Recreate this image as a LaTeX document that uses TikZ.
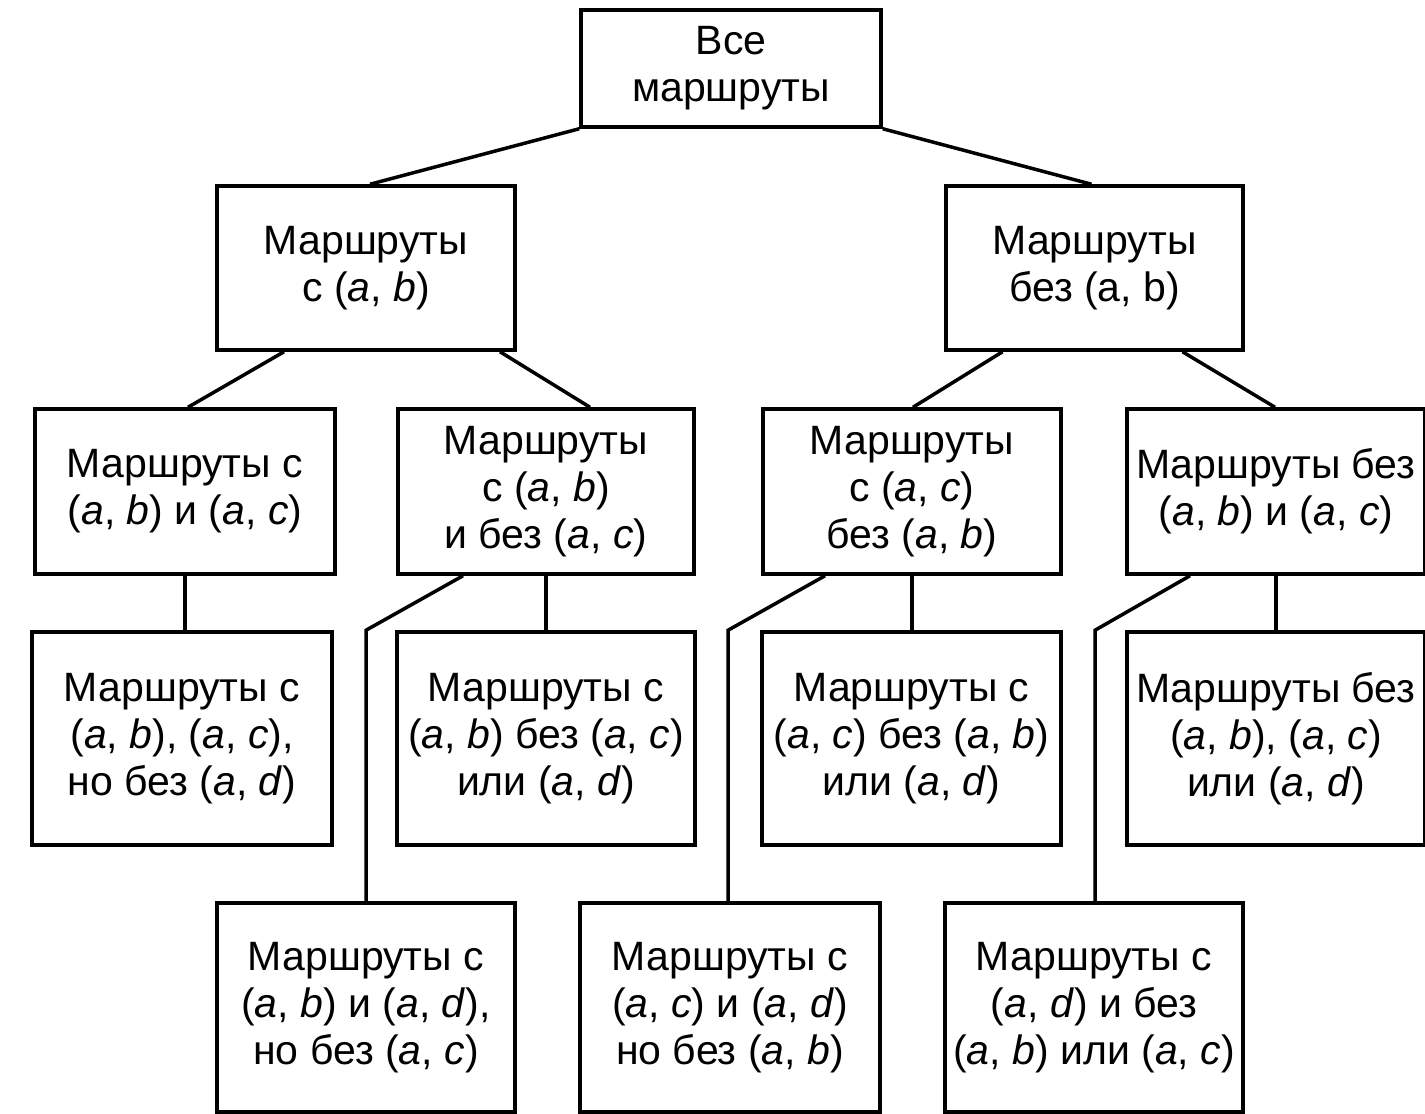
\documentclass[tikz,border=0pt]{standalone}
\usepackage{fontspec}
\setmainfont{Liberation Sans}
\usetikzlibrary{calc}
\newcommand{\I}[1]{\textit{#1}}
\begin{document}
\begin{tikzpicture}[x=1pt,y=-1pt,
  box/.style={draw=black,line width=3.5pt,fill=white,align=center,inner sep=0pt,
    font=\fontsize{41}{47}\selectfont},
  lnk/.style={draw=black,line width=3.5pt,line join=miter}]
\useasboundingbox[fill=white] (0,0) rectangle (1425,1114);
% level 1
\node[box,minimum width=300,minimum height=117] (top) at (731,68.5) {Все\\маршруты};
% level 2
\node[box,minimum width=298,minimum height=164] (l2a) at (366,268) {Маршруты\\с (\I{a}, \I{b})};
\node[box,minimum width=297,minimum height=164] (l2b) at (1094.5,268) {Маршруты\\без (a, b)};
% level 3
\node[box,minimum width=300,minimum height=165] (l3a) at (185,491.5) {Маршруты с\\(\I{a}, \I{b}) и (\I{a}, \I{c})};
\node[box,minimum width=296,minimum height=165] (l3b) at (546,491.5) {Маршруты\\с (\I{a}, \I{b})\\и без (\I{a}, \I{c})};
\node[box,minimum width=298,minimum height=165] (l3c) at (912,491.5) {Маршруты\\с (\I{a}, \I{c})\\без (\I{a}, \I{b})};
\node[box,minimum width=298,minimum height=165] (l3d) at (1276,491.5) {Маршруты без\\(\I{a}, \I{b}) и (\I{a}, \I{c})};
% level 4
\node[box,minimum width=300,minimum height=213] (l4a) at (182,738.5) {Маршруты с\\(\I{a}, \I{b}), (\I{a}, \I{c}),\\но без (\I{a}, \I{d})};
\node[box,minimum width=298,minimum height=213] (l4b) at (546,738.5) {Маршруты с\\(\I{a}, \I{b}) без (\I{a}, \I{c})\\или (\I{a}, \I{d})};
\node[box,minimum width=299,minimum height=213] (l4c) at (911.5,738.5) {Маршруты с\\(\I{a}, \I{c}) без (\I{a}, \I{b})\\или (\I{a}, \I{d})};
\node[box,minimum width=298,minimum height=213] (l4d) at (1276,738.5) {Маршруты без\\(\I{a}, \I{b}), (\I{a}, \I{c})\\или (\I{a}, \I{d})};
% level 5
\node[box,minimum width=298,minimum height=209] (l5a) at (366,1007.5) {Маршруты с\\(\I{a}, \I{b}) и (\I{a}, \I{d}),\\но без (\I{a}, \I{c})};
\node[box,minimum width=300,minimum height=209] (l5b) at (730,1007.5) {Маршруты с\\(\I{a}, \I{c}) и (\I{a}, \I{d})\\но без (\I{a}, \I{b})};
\node[box,minimum width=298,minimum height=209] (l5c) at (1094,1007.5) {Маршруты с\\(\I{a}, \I{d}) и без\\(\I{a}, \I{b}) или (\I{a}, \I{c})};
% connectors
\draw[lnk] (top.south west) -- ($(l2a.north)+(4,0)$);
\draw[lnk] (top.south east) -- ($(l2b.north)+(-3,0)$);
\draw[lnk] ($(l2a.south)+(-82,0)$) -- ($(l3a.north)+(3,0)$);
\draw[lnk] ($(l2a.south)+(134,0)$) -- ($(l3b.north)+(44,0)$);
\draw[lnk] ($(l2b.south)+(-92,0)$) -- ($(l3c.north)+(1,0)$);
\draw[lnk] ($(l2b.south)+(88,0)$) -- ($(l3d.north)+(-1,0)$);
\draw[lnk] (l3a.south) -- (l3a.south |- l4a.north);
\draw[lnk] (l3b.south) -- (l4b.north);
\draw[lnk] (l3c.south) -- (l3c.south |- l4c.north);
\draw[lnk] (l3d.south) -- (l3d.south |- l4d.north);
\draw[lnk] ($(l3b.south)+(-83,0)$) -- (l5a.north |- l4b.north) -- (l5a.north);
\draw[lnk] ($(l3c.south)+(-87,0)$) -- ($(l5b.north |- l4c.north)+(-2,0)$) -- ($(l5b.north)+(-2,0)$);
\draw[lnk] ($(l3d.south)+(-86,0)$) -- ($(l5c.north |- l4d.north)+(1,0)$) -- ($(l5c.north)+(1,0)$);
\end{tikzpicture}
\end{document}
